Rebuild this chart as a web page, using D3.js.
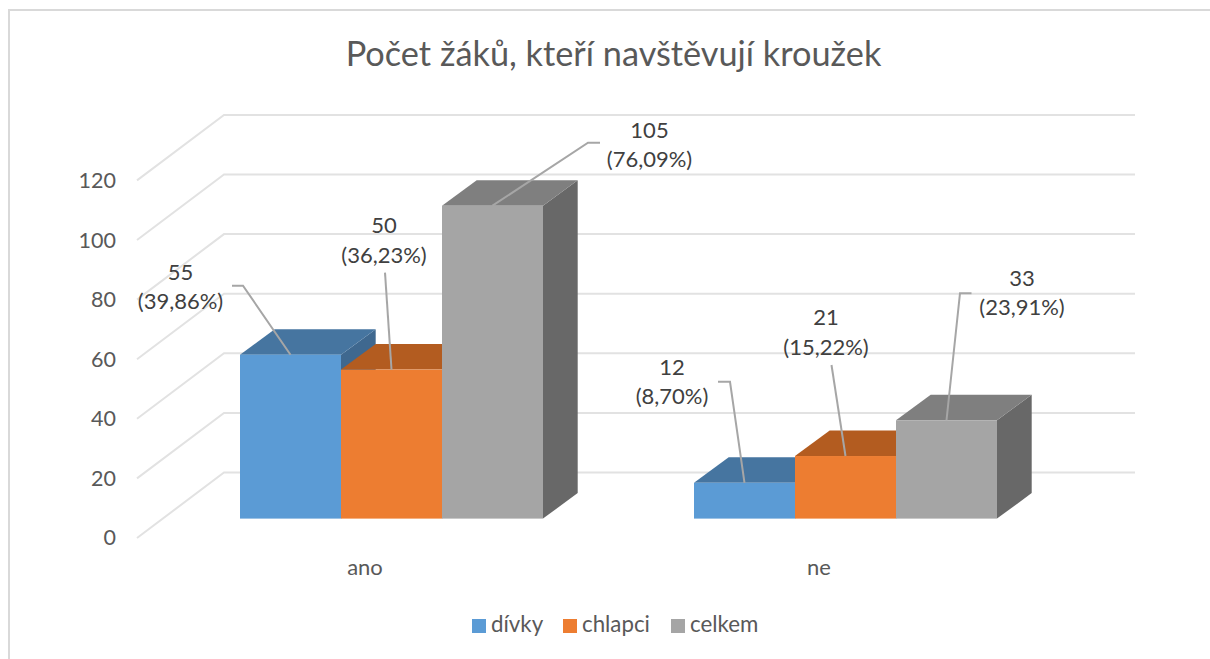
<!DOCTYPE html>
<html><head><meta charset="utf-8">
<script src="https://cdn.jsdelivr.net/npm/d3@7"></script>
<style>html,body{margin:0;padding:0;background:#fff}svg{display:block}text{font-family:Lato,"Noto Sans",sans-serif}</style>
</head><body><svg id="c" width="1210" height="659"></svg>
<script>
const titleText = "Počet žáků, kteří navštěvují kroužek";
const categories = ["ano", "ne"];
const seriesNames = ["dívky", "chlapci", "celkem"];
const divky = [55, 12];
const chlapci = [50, 21];
const celkem = [105, 33];
const percentDivky = ["39,86%", "8,70%"];
const percentChlapci = ["36,23%", "15,22%"];
const percentCelkem = ["76,09%", "23,91%"];
const yTicks = [0, 20, 40, 60, 80, 100, 120];

const frontColors = ["#5b9bd5", "#ed7d31", "#a5a5a5"];
const topColors = ["#4675a0", "#b35c20", "#7f7f7f"];
const sideColors = ["#3f688f", "#9e5220", "#686868"];

// layout of the oblique chart
const unit = 59.6 / 20;
const wall = {dx: 87, dy: -65.5};           // front edge of floor to back wall
const depth = {dx: 34.7, dy: -25.5};        // depth of each column
const front0 = 538;                         // floor front edge, value 0
const bar0 = 518.6;                         // column front base
const yGrid = d3.scaleLinear().domain([0, 120]).range([front0, front0 - 120 * unit]);
const yBar = d3.scaleLinear().domain([0, 120]).range([bar0, bar0 - 120 * unit]);
const xCat = d3.scaleBand().domain(categories).range([164.5, 1072.5]);
const xSeries = d3.scaleBand().domain(seriesNames).range([0, 303]);
const barLeft = c => xCat(c) + xCat.bandwidth() / 2 - 151.5;

const svg = d3.select("#c");
svg.append("path").attr("d", d3.line()([[9, 659], [9, 10], [1210, 10]]))
  .attr("fill", "none").attr("stroke", "#d9d9d9").attr("stroke-width", 2);

svg.append("text").attr("x", 613.5).attr("y", 66).attr("text-anchor", "middle")
  .attr("font-size", 34.3).attr("fill", "#595959").text(titleText);

// gridlines: wall and floor/side
const gridLeft = 137, gridRight = 1135;
const gridPath = v => d3.line()([[gridLeft, yGrid(v)], [gridLeft + wall.dx, yGrid(v) + wall.dy], [gridRight, yGrid(v) + wall.dy]]);
svg.append("g").selectAll("path").data(yTicks).join("path")
  .attr("d", gridPath).attr("fill", "none").attr("stroke", "#e2e2e2").attr("stroke-width", 2);

svg.append("g").selectAll("text").data(yTicks).join("text")
  .attr("x", 116).attr("y", d => yGrid(d) + 7 + (120 - d) * -0.008 + 1).attr("text-anchor", "end")
  .attr("font-size", 21.5).attr("fill", "#595959").text(d => d);

// columns
const seriesValues = [divky, chlapci, celkem];
const percents = [percentDivky, percentChlapci, percentCelkem];
const cols = [];
categories.forEach((c, ci) => seriesNames.forEach((s, si) => cols.push({c, ci, s, si, v: seriesValues[si][ci], p: percents[si][ci]})));
const g = svg.append("g");
const poly = pts => d3.line()(pts) + "Z";
cols.forEach(d => {
  const x0 = barLeft(d.c) + xSeries(d.s), x1 = x0 + xSeries.bandwidth();
  const yt = yBar(d.v), yb = yBar(0);
  g.append("path").attr("fill", sideColors[d.si]).attr("d", poly([[x1, yt], [x1 + depth.dx, yt + depth.dy], [x1 + depth.dx, yb + depth.dy], [x1, yb]]));
  g.append("path").attr("fill", topColors[d.si]).attr("d", poly([[x0, yt], [x0 + depth.dx, yt + depth.dy], [x1 + depth.dx, yt + depth.dy], [x1, yt]]));
  g.append("rect").attr("x", x0).attr("y", yt).attr("width", x1 - x0).attr("height", yb - yt).attr("fill", frontColors[d.si]);
});

// data labels and leader lines (offsets relative to the column's top-front centre)
const labelAnchors = [[-110, -75], [-7.5, -136.5], [157, -68], [-72.5, -108], [-19.5, -131], [75.5, -134.5]];
const leaderBends = [[[-47.5, -69], [-58.5, -69]], [[-6.5, -97]], [[95.5, -63], [107.5, -63]], [[-14.5, -101], [-26.5, -101]], [[-14, -91]], [[13.5, -127], [25, -127]]];
const labels = svg.append("g");
cols.forEach((d, i) => {
  const cx = barLeft(d.c) + xSeries(d.s) + xSeries.bandwidth() / 2, yt = yBar(d.v);
  const pts = [[cx, yt]].concat(leaderBends[i].map(o => [cx + o[0], yt + o[1]]));
  labels.append("path").attr("d", d3.line()(pts)).attr("fill", "none").attr("stroke", "#a6a6a6").attr("stroke-width", 2);
  const a = labelAnchors[i];
  labels.append("text").attr("x", cx + a[0]).attr("y", yt + a[1]).attr("text-anchor", "middle")
    .attr("font-size", 22).attr("fill", "#404040").text(d.v);
  labels.append("text").attr("x", cx + a[0]).attr("y", yt + a[1] + 29.5).attr("text-anchor", "middle")
    .attr("font-size", 22).attr("fill", "#404040").text("(" + d.p + ")");
});

// category labels
svg.append("g").selectAll("text").data(categories).join("text")
  .attr("x", d => xCat(d) + xCat.bandwidth() / 2 - 26.5).attr("y", 575).attr("text-anchor", "middle")
  .attr("font-size", 22).attr("fill", "#595959").text(d => d);

// legend
const legendX = [472, 563, 671];
const leg = svg.append("g").selectAll("g").data(seriesNames).join("g");
leg.append("rect").attr("x", (d, i) => legendX[i]).attr("y", 619).attr("width", 14).attr("height", 14).attr("fill", (d, i) => frontColors[i]);
leg.append("text").attr("x", (d, i) => legendX[i] + 19).attr("y", 632).attr("font-size", 22.3).attr("fill", "#595959").text(d => d);
</script></body></html>
